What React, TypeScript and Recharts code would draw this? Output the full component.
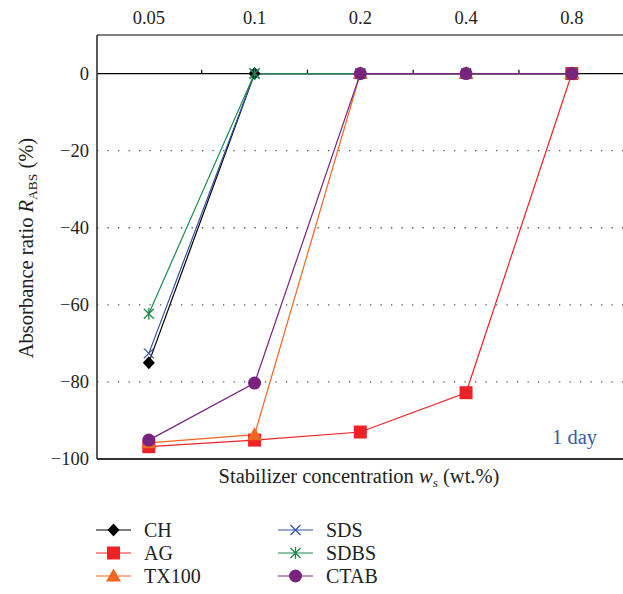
import React from 'react';
import { LineChart, Line, XAxis, YAxis, ReferenceLine } from 'recharts';

const categories = ['0.05', '0.1', '0.2', '0.4', '0.8'];
const yTicks = [-100, -80, -60, -40, -20, 0];
const gridValues = [-80, -60, -40, -20];

const chValues = [-75, 0, 0, 0, 0];
const agValues = [-96.8, -95.1, -93, -82.8, 0];
const tx100Values = [-95.8, -93.7, 0, 0, 0];
const sdsValues = [-72.6, 0, 0, 0, 0];
const sdbsValues = [-62.3, 0, 0, 0, 0];
const ctabValues = [-95.1, -80.3, 0, 0, 0];

const FONT = "'Liberation Serif', 'Times New Roman', serif";

const data = categories.map((c, i) => ({
    x: i,
    label: c,
    CH: chValues[i],
    AG: agValues[i],
    TX100: tx100Values[i],
    SDS: sdsValues[i],
    SDBS: sdbsValues[i],
    CTAB: ctabValues[i],
}));

type Shape = 'diamond' | 'square' | 'triangle' | 'cross' | 'star' | 'circle';

const Marker = ({ cx, cy, shape, color }: { cx: number; cy: number; shape: Shape; color: string }) => {
    switch (shape) {
        case 'diamond':
            return <polygon points={`${cx},${cy - 6.5} ${cx + 6},${cy} ${cx},${cy + 6.5} ${cx - 6},${cy}`} fill={color} />;
        case 'square':
            return <rect x={cx - 6.5} y={cy - 6.5} width={13} height={13} fill={color} />;
        case 'triangle':
            return <polygon points={`${cx},${cy - 7.5} ${cx + 7.5},${cy + 5.5} ${cx - 7.5},${cy + 5.5}`} fill={color} />;
        case 'cross':
            return (
                <g stroke={color} strokeWidth={1.3}>
                    <line x1={cx - 5} y1={cy - 5} x2={cx + 5} y2={cy + 5} />
                    <line x1={cx - 5} y1={cy + 5} x2={cx + 5} y2={cy - 5} />
                </g>
            );
        case 'star':
            return (
                <g stroke={color} strokeWidth={1.3}>
                    <line x1={cx - 5} y1={cy - 5} x2={cx + 5} y2={cy + 5} />
                    <line x1={cx - 5} y1={cy + 5} x2={cx + 5} y2={cy - 5} />
                    <line x1={cx} y1={cy - 6} x2={cx} y2={cy + 6} />
                </g>
            );
        default:
            return <circle cx={cx} cy={cy} r={6.5} fill={color} />;
    }
};

const series: { key: string; color: string; shape: Shape }[] = [
    { key: 'CH', color: '#000000', shape: 'diamond' },
    { key: 'AG', color: '#ee2226', shape: 'square' },
    { key: 'TX100', color: '#f26522', shape: 'triangle' },
    { key: 'SDS', color: '#3352a6', shape: 'cross' },
    { key: 'SDBS', color: '#1b8a4c', shape: 'star' },
    { key: 'CTAB', color: '#78247f', shape: 'circle' },
];

const legendRows = [
    [series[0], series[3]],
    [series[1], series[4]],
    [series[2], series[5]],
];

const TopTick = ({ x, payload }: any) => (
    <text x={x} y={24} textAnchor="middle" style={{ fontFamily: FONT }} fontSize={18.5} fill="#222">
        {categories[payload.value]}
    </text>
);

const LeftTick = ({ y, payload }: any) => (
    <text x={89} y={y + 6} textAnchor="end" style={{ fontFamily: FONT }} fontSize={18.5} fill="#222">
        {payload.value < 0 ? `\u2212${Math.abs(payload.value)}` : payload.value}
    </text>
);

export default function App() {
    return (
        <div style={{ position: 'absolute', left: 0, top: 0, width: 623, height: 594, background: '#fff', fontFamily: FONT }}>
            <LineChart width={623} height={594} data={data} margin={{ top: 0, right: 0, left: 0, bottom: 135 }}>
                <XAxis
                    dataKey="x" type="number" orientation="top" domain={[-0.49, 4.484]}
                    ticks={[0, 1, 2, 3, 4]} height={35} tick={<TopTick />} tickLine={false}
                    axisLine={{ stroke: '#555', strokeWidth: 1.6 }} allowDataOverflow
                />
                <YAxis
                    type="number" domain={[-100, 10]} ticks={yTicks} width={97}
                    tick={<LeftTick />} tickLine={false}
                    axisLine={{ stroke: '#333', strokeWidth: 1.6 }} allowDataOverflow
                />
                {gridValues.map(v => (
                    <ReferenceLine key={v} y={v} stroke="#555" strokeWidth={1.3} strokeDasharray="1.3 9.2" />
                ))}
                <ReferenceLine y={-100} stroke="#333" strokeWidth={2} />
                <ReferenceLine y={0} stroke="#000" strokeWidth={1.2} />
                {[0.5, 1.5, 2.5, 3.5].map(v => (
                    <ReferenceLine key={v} segment={[{ x: v, y: 0 }, { x: v, y: 1 }]} stroke="#000" strokeWidth={1.2} />
                ))}
                {series.map(s => (
                    <Line
                        key={s.key} dataKey={s.key} type="linear" stroke={s.color} strokeWidth={1.2}
                        isAnimationActive={false} activeDot={false}
                        dot={(p: any) => <Marker key={`${s.key}-${p.index}`} cx={p.cx} cy={p.cy} shape={s.shape} color={s.color} />}
                    />
                ))}
            </LineChart>
            <svg width={623} height={594} style={{ position: 'absolute', left: 0, top: 0, pointerEvents: 'none', fontFamily: FONT }}>
                <text x={33} y={248} transform="rotate(-90 33 248)" textAnchor="middle" fontSize={20.5} fill="#222">
                    Absorbance ratio <tspan fontStyle="italic">R</tspan>
                    <tspan fontSize={13.5} dy={4}>ABS</tspan>
                    <tspan dy={-4}> (%)</tspan>
                </text>
                <text x={359} y={483} textAnchor="middle" fontSize={20.5} fill="#222">
                    Stabilizer concentration <tspan fontStyle="italic">w</tspan>
                    <tspan fontStyle="italic" fontSize={13.5} dy={4}>s</tspan>
                    <tspan dy={-4}> (wt.%)</tspan>
                </text>
                <text x={552} y={444} fontSize={20.5} fill="#3a56a6">1 day</text>
                {legendRows.map((row, r) =>
                    row.map((s, c) => {
                        const x0 = c === 0 ? 96 : 278;
                        const y = 530 + r * 23;
                        return (
                            <g key={s.key}>
                                <line x1={x0} y1={y} x2={x0 + 35} y2={y} stroke={s.color} strokeWidth={1.2} />
                                <Marker cx={x0 + 17.5} cy={y} shape={s.shape} color={s.color} />
                                <text x={x0 + 48} y={y + 7} fontSize={20} fill="#222">{s.key}</text>
                            </g>
                        );
                    })
                )}
            </svg>
        </div>
    );
}
